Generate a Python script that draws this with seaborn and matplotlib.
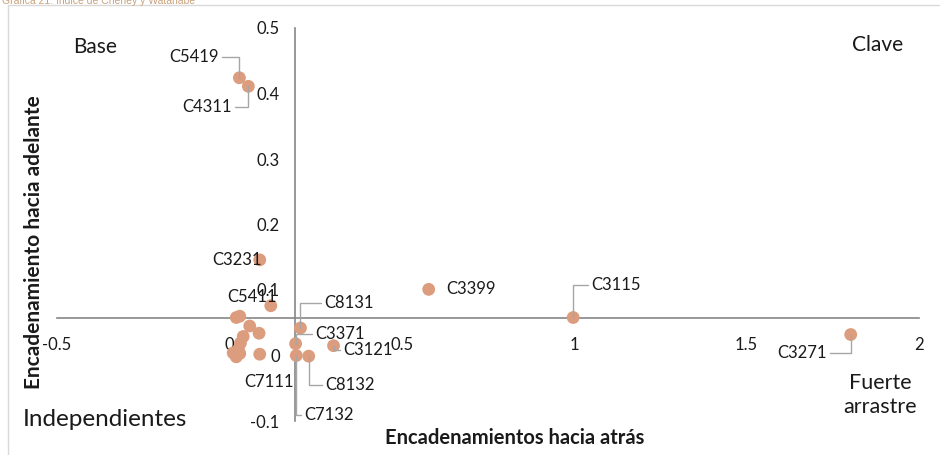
import matplotlib
matplotlib.use('Agg')
import matplotlib.pyplot as plt
import seaborn as sns
import pandas as pd
from matplotlib.patches import Rectangle

# sectores con etiqueta
labels = ['C5419', 'C4311', 'C3231', 'C5411', 'C8131', 'C3371', 'C3121',
          'C8132', 'C7132', 'C7111', 'C3399', 'C3115', 'C3271']
back_lab = [0.029, 0.055, 0.088, 0.120, 0.206, 0.192, 0.302,
            0.230, 0.194, 0.088, 0.578, 0.997, 1.802]
fwd_lab = [0.424, 0.411, 0.146, 0.076, 0.042, 0.018, 0.015,
           -0.001, 0.000, 0.002, 0.101, 0.058, 0.032]

# sectores sin etiqueta (nube cerca de cero)
back_rest = [0.020, 0.030, 0.059, 0.086, 0.040, 0.032, 0.026, 0.011, 0.020, 0.030]
fwd_rest = [0.058, 0.060, 0.045, 0.034, 0.029, 0.019, 0.009, 0.004, -0.002, 0.003]

# cruce de ejes (promedios)
mean_back = 0.19
mean_fwd = 0.058

x_ticks = [-0.5, 0, 0.5, 1, 1.5, 2]
x_ticklabels = ['-0.5', '0', '0.5', '1', '1.5', '2']
y_ticks = [-0.1, 0, 0.1, 0.2, 0.3, 0.4, 0.5]
y_ticklabels = ['-0.1', '0', '0.1', '0.2', '0.3', '0.4', '0.5']

df = pd.DataFrame({
    'atras': back_lab + back_rest,
    'adelante': fwd_lab + fwd_rest,
})

# posicion de etiquetas (pixeles respecto al punto) y si llevan linea guia
label_pos = {
    'C5419': (-45, 21, True), 'C4311': (-41, -21, True), 'C3231': (-23, 0, False),
    'C5411': (-19, 9, False), 'C8131': (49, 25, True), 'C3371': (44, 10, True),
    'C3121': (34, -4, True), 'C8132': (41, -29, True), 'C7132': (33, -59, True),
    'C7111': (9, -28, False), 'C3399': (42, 0, False), 'C3115': (43, 33, True),
    'C3271': (-49, -18, True),
}

sns.set_style('white')
plt.rcParams['font.family'] = ['Lato', 'DejaVu Sans']

W, H = 940, 455
fig = plt.figure(figsize=(9.4, 4.55), dpi=100)
ax = fig.add_axes([57 / W, 1 - 421 / H, (919 - 57) / W, (421 - 28) / H])

sns.scatterplot(data=df, x='atras', y='adelante', ax=ax, s=85,
                color='#DC9C7E', edgecolor='none', zorder=3, clip_on=False)

for name, bx, fy in zip(labels, back_lab, fwd_lab):
    dx, dy, leader = label_pos[name]
    arrow = None
    if leader:
        arrow = dict(arrowstyle='-', color='#A6A6A6', lw=1,
                     connectionstyle='angle,angleA=0,angleB=90,rad=0',
                     shrinkA=0, shrinkB=0)
    ax.annotate(name, xy=(bx, fy), xytext=(dx, dy), textcoords='offset pixels',
                ha='center', va='center', fontsize=12, color='#1a1a1a',
                arrowprops=arrow, zorder=4)

ax.set_xlim(-0.5, 2)
ax.set_ylim(-0.1, 0.5)
ax.spines['left'].set_position(('data', mean_back))
ax.spines['bottom'].set_position(('data', mean_fwd))
ax.spines[['top', 'right']].set_visible(False)
for sp in ['left', 'bottom']:
    ax.spines[sp].set_color('#868686')
    ax.spines[sp].set_linewidth(1.2)
ax.set_xticks(x_ticks)
ax.set_xticklabels(x_ticklabels)
ax.set_yticks(y_ticks)
ax.set_yticklabels(y_ticklabels)
ax.tick_params(axis='both', direction='out', length=5, width=1.2, color='#868686',
               labelsize=12, labelcolor='#1a1a1a')
ax.tick_params(axis='x', pad=9)
ax.tick_params(axis='y', pad=6)
ax.set_xlabel('')
ax.set_ylabel('')
ax.patch.set_alpha(0)

# titulos de ejes
fig.text(515 / W, 1 - 438 / H, 'Encadenamientos hacia atrás', ha='center', va='center',
         fontsize=14.5, fontweight='bold', color='#1a1a1a')
fig.text(34 / W, 1 - 242 / H, 'Encadenamiento hacia adelante', ha='center', va='center',
         rotation=90, fontsize=15, fontweight='bold', color='#1a1a1a')

# cuadrantes
fig.text(95 / W, 1 - 47 / H, 'Base', ha='center', va='center', fontsize=15, color='#1a1a1a')
fig.text(878 / W, 1 - 45 / H, 'Clave', ha='center', va='center', fontsize=15, color='#1a1a1a')
fig.text(105 / W, 1 - 420 / H, 'Independientes', ha='center', va='center', fontsize=17.5,
         color='#1a1a1a')
fig.text(880 / W, 1 - 395 / H, 'Fuerte\narrastre', ha='center', va='center', fontsize=15.5,
         color='#1a1a1a', linespacing=1.25)

# marco del grafico y titulo recortado
fig.patches.append(Rectangle((8 / W, -0.05), 1.0, 1 - 5 / H + 0.05, transform=fig.transFigure,
                             fill=False, edgecolor='#D9D9D9', lw=1))
fig.text(2 / W, 1 - 0.5 / H, 'Grafica 21. Indice de Cheney y Watanabe', ha='left', va='center',
         fontsize=7.5, color='#C9A27C', family=['Liberation Sans', 'DejaVu Sans'])

fig.savefig('out.png', dpi=100)
